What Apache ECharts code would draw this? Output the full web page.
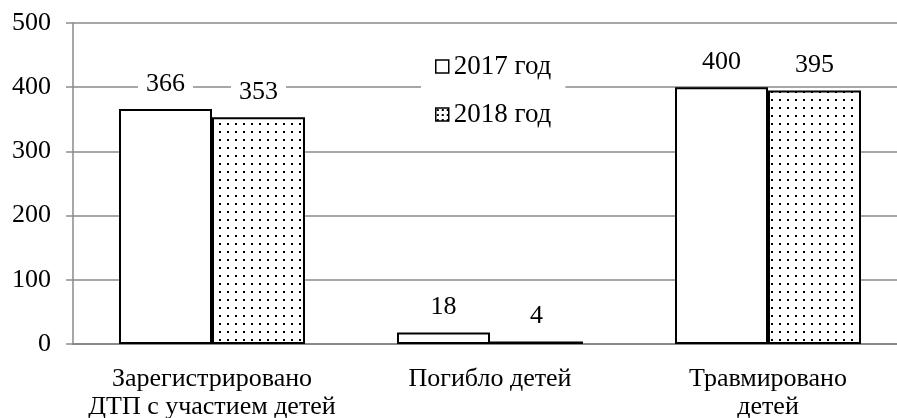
<!DOCTYPE html>
<html>
<head>
<meta charset="utf-8">
<script src="https://cdn.jsdelivr.net/npm/echarts@6/dist/echarts.min.js"></script>
<style>html,body{margin:0;padding:0;background:#fff;}#c{width:897px;height:418px;}</style>
</head>
<body>
<div id="c"></div>
<script>
const categories = ['Зарегистрировано\nДТП с участием детей', 'Погибло детей', 'Травмировано\nдетей'];
const seriesNames = ['2017 год', '2018 год'];
const values2017 = [366, 18, 400];
const values2018 = [353, 4, 395];
const yTicks = [0, 100, 200, 300, 400, 500];

function dotPattern() {
  const c = document.createElement('canvas');
  c.width = 8; c.height = 8;
  const g = c.getContext('2d');
  g.fillStyle = '#fff'; g.fillRect(0, 0, 8, 8);
  g.fillStyle = '#000'; g.fillRect(3, 3, 2, 2);
  return c;
}
function legendPattern() {
  const c = document.createElement('canvas');
  c.width = 5; c.height = 5;
  const g = c.getContext('2d');
  g.fillStyle = '#fff'; g.fillRect(0, 0, 5, 5);
  g.fillStyle = '#000'; g.fillRect(1, 1, 2, 2);
  return c;
}
const pat = { image: dotPattern(), repeat: 'repeat' };
const FONT = 'Liberation Serif';
const GRAY = '#8a8a8a';
const FS = 26;

const chart = echarts.init(document.getElementById('c'), null, { renderer: 'canvas' });
const labelCfg = {
  show: true, position: 'top', distance: 11,
  color: '#000', fontFamily: FONT, fontSize: FS,
  backgroundColor: '#fff', padding: [1, 8]
};
chart.setOption({
  animation: false,
  backgroundColor: '#fff',
  textStyle: { fontFamily: FONT },
  grid: { left: 73, width: 834, top: 23, bottom: 74, containLabel: false, outerBoundsMode: 'none' },
  legend: {
    data: [
      { name: seriesNames[0], icon: 'rect' },
      { name: seriesNames[1], icon: 'rect', itemStyle: { color: { image: legendPattern(), repeat: 'repeat' } } }
    ],
    orient: 'vertical',
    left: 421, top: 47,
    itemWidth: 13, itemHeight: 13, itemGap: 21,
    backgroundColor: '#fff',
    padding: [6, 14],
    textStyle: { fontFamily: FONT, fontSize: 27, color: '#000' },
    itemStyle: { borderColor: '#000', borderWidth: 1.5 }
  },
  xAxis: {
    type: 'category',
    data: categories,
    axisLine: { lineStyle: { color: GRAY, width: 2 } },
    axisTick: { show: false },
    axisLabel: { color: '#000', fontFamily: FONT, fontSize: FS, lineHeight: 28, margin: 21, interval: 0 }
  },
  yAxis: {
    type: 'value',
    min: yTicks[0], max: yTicks[yTicks.length - 1], interval: 100,
    axisLine: { show: true, lineStyle: { color: GRAY, width: 1.5 } },
    axisTick: { show: true, length: 7, lineStyle: { color: GRAY, width: 1.5 } },
    axisLabel: { color: '#000', fontFamily: FONT, fontSize: FS, margin: 22 },
    splitLine: { lineStyle: { color: GRAY, width: 1.5 } }
  },
  series: [
    {
      name: seriesNames[0], type: 'bar', data: values2017,
      barWidth: 93, barGap: '0%',
      itemStyle: { color: '#fff', borderColor: '#000', borderWidth: 2 },
      label: labelCfg
    },
    {
      name: seriesNames[1], type: 'bar', data: values2018,
      barWidth: 93,
      itemStyle: { color: pat, borderColor: '#000', borderWidth: 2 },
      label: labelCfg
    }
  ]
});
</script>
</body>
</html>
